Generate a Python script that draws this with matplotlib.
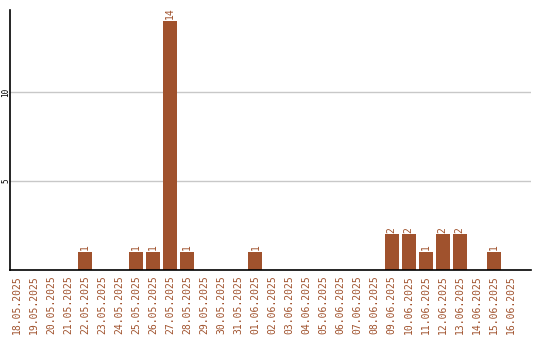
import matplotlib
matplotlib.use("Agg")
import matplotlib.pyplot as plt

dates = ["18.05.2025", "19.05.2025", "20.05.2025", "21.05.2025", "22.05.2025",
         "23.05.2025", "24.05.2025", "25.05.2025", "26.05.2025", "27.05.2025",
         "28.05.2025", "29.05.2025", "30.05.2025", "31.05.2025", "01.06.2025",
         "02.06.2025", "03.06.2025", "04.06.2025", "05.06.2025", "06.06.2025",
         "07.06.2025", "08.06.2025", "09.06.2025", "10.06.2025", "11.06.2025",
         "12.06.2025", "13.06.2025", "14.06.2025", "15.06.2025", "16.06.2025"]
counts = [0, 0, 0, 0, 1, 0, 0, 1, 1, 14, 1, 0, 0, 0, 1,
          0, 0, 0, 0, 0, 0, 0, 2, 2, 1, 2, 2, 0, 1, 0]
yticks = [5, 10]

color = "#A0522D"
W, H = 540, 340
fig = plt.figure(figsize=(W / 100, H / 100), dpi=100)
left, right, bottom, top = 10, 531, 270, 10
ax = fig.add_axes([left / W, (H - bottom) / H, (right - left) / W, (bottom - top) / H])

x = list(range(len(dates)))
ax.bar(x, counts, width=0.82, color=color, zorder=2)
for xi, v in zip(x, counts):
    if v > 0:
        ax.text(xi, v + 0.1, str(v), rotation=90, ha="center", va="bottom",
                color=color, fontsize=7, family="DejaVu Sans Mono")

ax.set_xlim(-0.41, 30.18)
ax.set_ylim(0, 14.6)
ax.set_yticks(yticks)
ax.set_yticklabels([str(t) for t in yticks], rotation=90, va="center",
                   fontsize=5.5, family="DejaVu Sans Mono")
ax.tick_params(axis="y", length=0, pad=0)
ax.set_xticks(x)
ax.set_xticklabels(dates, rotation=90, color=color, fontsize=7,
                   family="DejaVu Sans Mono")
ax.tick_params(axis="x", length=0, pad=4)
ax.grid(axis="y", color="#c8c8c8", linewidth=1, zorder=0)
for s in ["top", "right"]:
    ax.spines[s].set_visible(False)
ax.spines["left"].set_linewidth(1.2)
ax.spines["bottom"].set_linewidth(1.2)

fig.savefig("out.png", dpi=100)
